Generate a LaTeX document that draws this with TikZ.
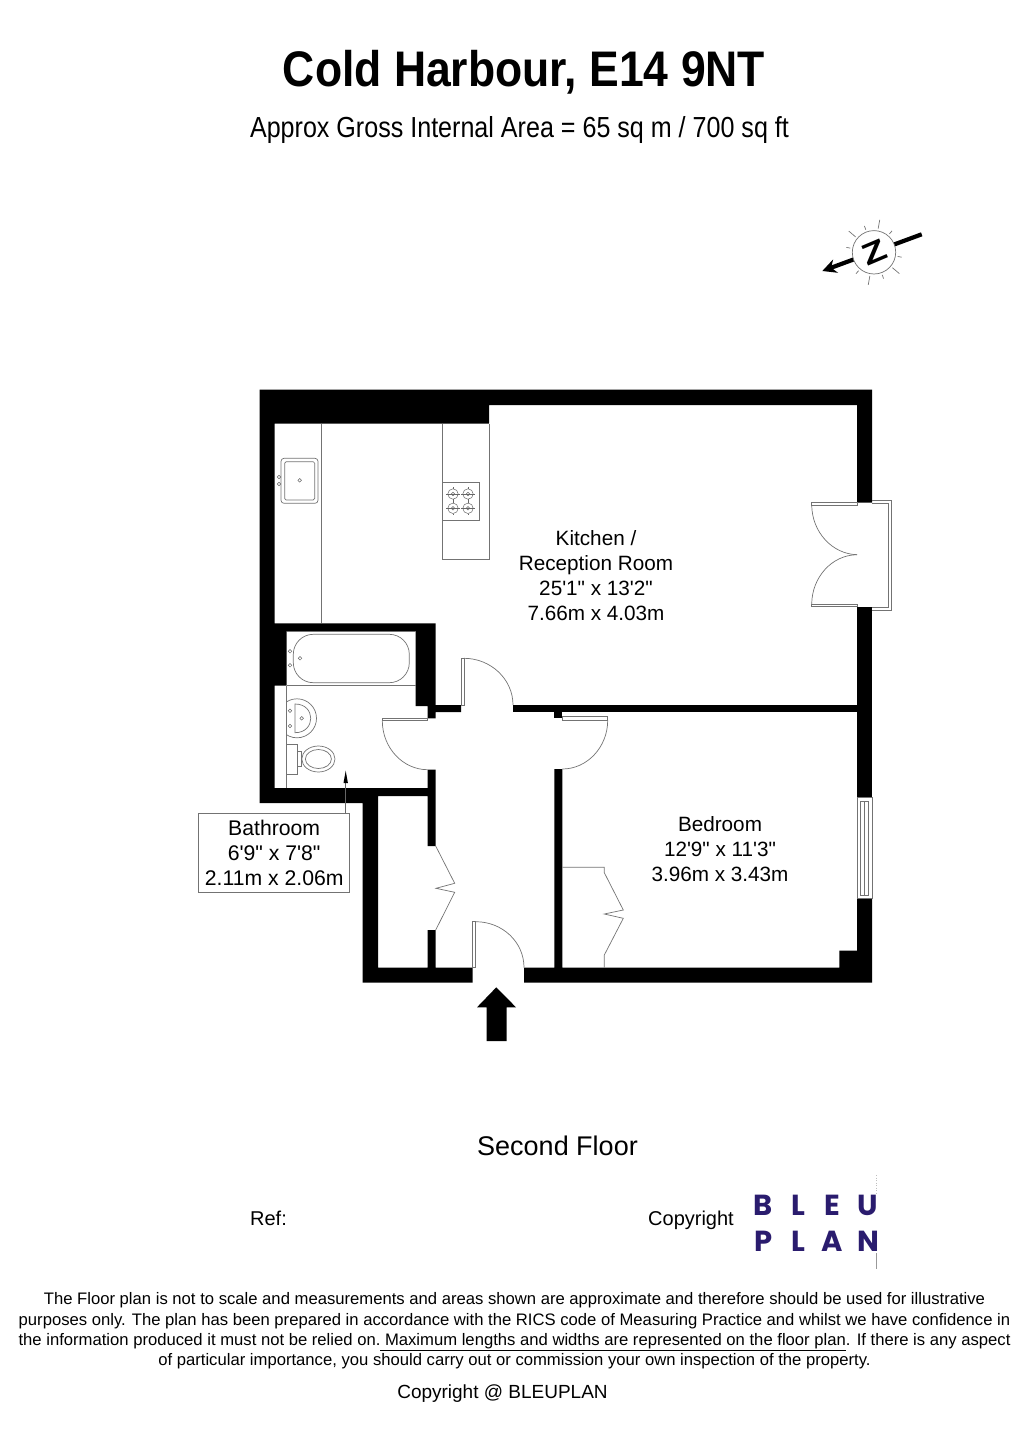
\documentclass[tikz,border=0pt]{standalone}
\usepackage{fontspec}
\usetikzlibrary{arrows.meta}
\newfontfamily\planfont{Liberation Sans}
\newfontfamily\logofont{Poppins}
\definecolor{bleunavy}{HTML}{2A1C6E}
\tikzset{
	wall/.style={fill=black},
	fixture/.style={draw=black!55,line width=.7pt},
	tap/.style={draw=black!60,line width=.5pt},
	roomlabel/.style={font=\planfont\fontsize{20.7}{25}\selectfont,align=center,inner sep=0pt},
	notetext/.style={font=\planfont\fontsize{16.65}{20}\selectfont,anchor=base,inner sep=0pt},
	logoletter/.style={font=\logofont\bfseries\fontsize{29}{29}\selectfont,text=bleunavy,anchor=base,inner sep=0pt},
}
\begin{document}
\begin{tikzpicture}[x=1pt,y=-1pt,>=stealth]
	\useasboundingbox (0,0) rectangle (1020,1442);
	% heading
	\node[anchor=base,inner sep=0pt,font=\planfont\bfseries\fontsize{50}{50}\selectfont] (title) at (524,87) {\scalebox{.89}[1]{Cold Harbour, E14 9NT}};
	\node[anchor=base,inner sep=0pt,font=\planfont\fontsize{29}{29}\selectfont] (area) at (519.5,138) {\scalebox{.865}[1]{Approx Gross Internal Area = 65 sq m / 700 sq ft}};
	% north sign
	\coordinate (ntail) at (921.7,234.3);
	\coordinate (ntip) at (822.3,271);
	\coordinate (ncentre) at (874,252.3);
	\draw[line width=4.2pt,-{Stealth[length=14pt,width=14pt]}] (ntail) -- (ntip);
	\draw[fixture,fill=white] (ncentre) circle (21.7pt);
	\foreach \a/\r in {80/33,50/28,-10/28,-40/33,-70/28,-100/33,-130/28,170/28,140/33,110/28}
		\draw[fixture] ([shift={(\a:24pt)}]ncentre) -- ([shift={(\a:\r pt)}]ncentre);
	\node[rotate=23,inner sep=0pt,font=\planfont\bfseries\fontsize{30}{30}\selectfont] (nletter) at (ncentre) {\scalebox{1.3}[1]{Z}};
	% walls
	\fill[wall] (259.5,389.5) -- (872,389.5) -- (872,502.7) -- (857,502.7) -- (857,405) -- (489,405) -- (489,423.5) -- (274.5,423.5) -- (274.5,623.3) -- (435.7,623.3) -- (435.7,705) -- (461,705) -- (461,712) -- (435.7,712) -- (435.7,718.3) -- (427.7,718.3) -- (427.7,706) -- (415.7,706) -- (415.7,631) -- (286.7,631) -- (286.7,685.7) -- (274.7,685.7) -- (274.7,788) -- (427.7,788) -- (427.7,769.7) -- (435.7,769.7) -- (435.7,846) -- (427.7,846) -- (427.7,796) -- (378,796) -- (378,967.5) -- (427.7,967.5) -- (427.7,930) -- (435.7,930) -- (435.7,967.5) -- (472.7,967.5) -- (472.7,982.7) -- (362.7,982.7) -- (362.7,803) -- (259.5,803) -- cycle;
	\fill[wall] (857,606.7) rectangle (872,797.7);
	\fill[wall] (513.3,705) rectangle (857,712.3);
	\fill[wall] (554.3,712) rectangle (562.3,717.5);
	\fill[wall] (857,898.3) -- (872,898.3) -- (872,982.7) -- (524,982.7) -- (524,967.5) -- (554.3,967.5) -- (554.3,769) -- (562.3,769) -- (562.3,967.5) -- (839.3,967.5) -- (839.3,950.7) -- (857,950.7) -- cycle;
	% balcony doors
	\draw[fixture] (872,500) -- (891,500) -- (891,610) -- (872,610);
	\draw[fixture] (872,503) -- (888.5,503) -- (888.5,607) -- (872,607);
	\draw[fixture] (811.7,502.7) rectangle (857,505);
	\draw[fixture] (811.7,604) rectangle (857,606.7);
	\draw[fixture] (811.7,505) .. controls (812,532) and (832,554) .. (857,554.7);
	\draw[fixture] (811.7,604) .. controls (812,577) and (832,555) .. (857,554.7);
	% bedroom window
	\draw[fixture] (857,797.7) rectangle (872,898.3);
	\draw[fixture] (860.7,801) rectangle (868.3,895);
	\draw[fixture] (864.5,801) -- (864.5,895);
	% inner doors
	\draw[fixture] (461.7,658.3) rectangle (464,705);
	\draw[fixture] (464,658.3) .. controls (490.6,658.3) and (513,679) .. (513,705);
	\draw[fixture] (382.3,718) rectangle (427.7,720.7);
	\draw[fixture] (382.3,720.7) .. controls (382.3,747.7) and (402.7,769.7) .. (427.7,769.7);
	\draw[fixture] (562.3,716.7) rectangle (607.7,720.3);
	\draw[fixture] (607.7,720.3) .. controls (607.7,747) and (587.3,769) .. (562.3,769);
	\draw[fixture] (472.3,921.7) rectangle (475.7,967.5);
	\draw[fixture] (475.7,921.7) .. controls (502.4,921.7) and (524,942) .. (524,967.5);
	% cupboard and wardrobe
	\draw[fixture] (435.7,846) -- (454.7,883.3) -- (436,888.3) -- (454.7,892.3) -- (435.7,930);
	\draw[fixture] (562.3,867.3) -- (604.3,867.3) -- (604.3,872.7) -- (623.3,910) -- (604.3,914) -- (623.3,918.3) -- (604.3,955) -- (604.3,967.5);
	% kitchen
	\draw[fixture] (321.7,423.5) -- (321.7,623.3);
	\draw[fixture,rounded corners=3pt] (281,458.3) rectangle (318,503.3);
	\draw[fixture,rounded corners=1.5pt] (284.7,461.7) rectangle (314.7,500);
	\foreach \c in {(299.7,480.3),(279,477),(279,484)}
		\draw[tap] \c circle (1.8pt);
	\draw[fixture] (442,423.5) -- (442,559.7) -- (489,559.7) -- (489,423.5);
	\draw[fixture] (442,482.3) -- (479.7,482.3) -- (479.7,520.3) -- (442,520.3);
	\foreach \cx/\cy in {453/494,468/494,453/508.3,468/508.3}{
		\draw[tap] (\cx,\cy) circle (5.2pt);
		\draw[tap] (\cx,\cy) circle (1.8pt);
		\draw[tap] (\cx-7,\cy) -- (\cx+7,\cy);
		\draw[tap] (\cx,\cy-7) -- (\cx,\cy-5.2) (\cx,\cy+5.2) -- (\cx,\cy+7);
	}
	% bathroom
	\draw[fixture] (286.7,631) -- (415.7,631) (286.7,685.7) -- (415.7,685.7);
	\draw[fixture] (286.7,685.7) -- (286.7,788);
	\draw[fixture,rounded corners=20pt] (293.3,634.3) rectangle (409.3,682.7);
	\foreach \c in {(290,651.3),(290,665.3),(300,658.3),(290,710.7),(290,726),(301.7,718.3)}
		\draw[tap] \c circle (1.8pt);
	\begin{scope}
		\clip (286.7,690) rectangle (330,745);
		\draw[fixture] (297,718.3) circle (19.5pt);
	\end{scope}
	\draw[fixture] (295,704) .. controls (316,704) and (316,732.7) .. (295,732.7) -- cycle;
	\draw[fixture] (286.7,744.3) rectangle (297.7,774);
	\draw[fixture] (297.7,751.7) rectangle (301.7,766.7);
	\draw[fixture] (318.4,759) ellipse (16.6pt and 13pt);
	\draw[fixture] (318.4,759) ellipse (13pt and 9.5pt);
	% bathroom label
	\node[draw=black!55,line width=.7pt,minimum width=151pt,minimum height=79.7pt,inner sep=0pt,roomlabel,font=\planfont\fontsize{21.2}{25}\selectfont] (bathlabel) at (274.2,852.8) {Bathroom\\6'9" x 7'8"\\2.11m x 2.06m};
	\coordinate (bathtip) at (345.7,770.7);
	\draw[black!60,line width=.7pt] (345.7,813) -- (345.7,783);
	\fill[black] (bathtip) -- (347.9,783) -- (343.5,783) -- cycle;
	% rooms
	\node[roomlabel] (kitchen) at (596,576) {Kitchen /\\Reception Room\\25'1" x 13'2"\\7.66m x 4.03m};
	\node[roomlabel] (bedroom) at (720,849) {Bedroom\\12'9" x 11'3"\\3.96m x 3.43m};
	% entrance
	\fill[black] (496.3,987.3) -- (516,1007.3) -- (506.7,1007.3) -- (506.7,1041) -- (486.7,1041) -- (486.7,1007.3) -- (477,1007.3) -- cycle;
	% floor name and logo
	\node[anchor=base,inner sep=0pt,font=\planfont\fontsize{27}{27}\selectfont] (floor) at (557.5,1155) {Second Floor};
	\node[anchor=base,inner sep=0pt,font=\planfont\fontsize{20}{20}\selectfont] (ref) at (268.5,1225) {Ref:};
	\node[anchor=base,inner sep=0pt,font=\planfont\fontsize{20}{20}\selectfont] (copyright) at (691,1225) {Copyright};
	\foreach \t/\x in {B/763.5,L/798.5,E/832.5,U/868}
		\node[logoletter] (top\t) at (\x,1215) {\t};
	\foreach \t/\x in {P/763.5,L/798.5,A/832,N/868}
		\node[logoletter] (low\t) at (\x,1251) {\t};
	\draw[black!40,line width=.5pt] (876.7,1253) -- (876.7,1269);
	\draw[black!25,line width=.5pt,dotted] (876.7,1175) -- (876.7,1193);
	% small print
	\node[notetext] (noteone) at (514.5,1304) {The Floor plan is not to scale and measurements and areas shown are approximate and therefore should be used for illustrative};
	\node[notetext] (notetwo) at (514.5,1325) {purposes only. The plan has been prepared in accordance with the RICS code of Measuring Practice and whilst we have confidence in};
	\node[notetext] (notethree) at (514.5,1345.5) {the information produced it must not be relied on.\underline{ Maximum lengths and widths are represented on the floor plan}. If there is any aspect};
	\node[notetext] (notefour) at (514.5,1365.5) {of particular importance, you should carry out or commission your own inspection of the property.};
	\node[anchor=base,inner sep=0pt,font=\planfont\fontsize{19}{19}\selectfont] (copynote) at (502.5,1398) {Copyright @ BLEUPLAN};
\end{tikzpicture}
\end{document}
